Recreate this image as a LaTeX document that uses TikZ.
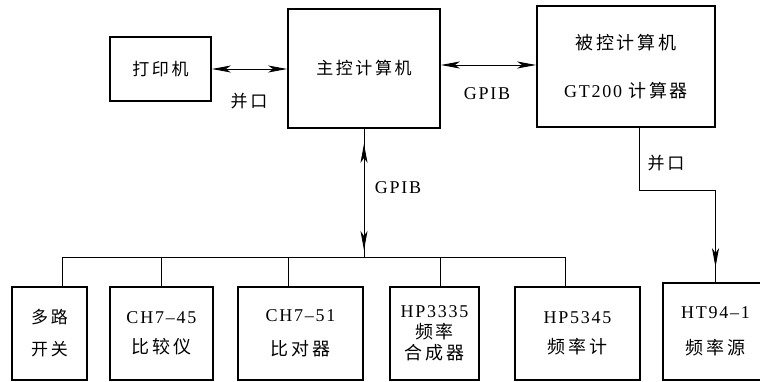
\documentclass[tikz,border=0pt]{standalone}
\usepackage{fontspec}
\setmainfont{Liberation Serif}[LetterSpace=10]
\newfontfamily\cjk[LetterSpace=15]{Noto Sans CJK SC}
\usetikzlibrary{arrows.meta,decorations.markings}

\begin{document}
\begin{tikzpicture}[
      x=1pt, y=-1pt,
      >={Stealth[length=19pt,width=7pt,inset=5pt]},
      every node/.style={font=\fontsize{17}{20}\selectfont, align=center, inner sep=0pt},
      latin/.style={font=\fontsize{18}{20}\selectfont},
      box/.style={rectangle, draw=black, line width=1.8pt, minimum width=#1pt},
      wire/.style={line width=0.9pt, draw=black},
      pointer/.style={wire, <->},
      vpointer/.style={wire, postaction=decorate, decoration={markings,
          mark=at position 15pt with {\arrowreversed{>}},
          mark=at position -7pt with {\arrow{>}}}},
      dpointer/.style={wire, postaction=decorate, decoration={markings,
          mark=at position -15pt with {\arrow{>}}}}
      ]
      \useasboundingbox (0,0) rectangle (760,382);
      \clip (0,0) rectangle (760,382);
      % computers
      \node[box=101, minimum height=64pt] (printer) at (160.5,69) {\cjk 打印机};
      \node[box=152, minimum height=119pt] (host) at (364,68.5) {\cjk 主控计算机};
      \node[box=178, minimum height=121pt, latin] (slave) at (626,66.5)
        {{\cjk 被控计算机}\\[28pt]GT200 {\cjk 计算器}};
      % instruments
      \node[box=75, minimum height=93pt] (mux) at (49.5,333.5) {\cjk 多路\\[12pt]\cjk 开关};
      \node[box=103, minimum height=93pt, latin] (cmp) at (161.5,333.5) {CH7--45\\[10pt]{\cjk 比较仪}};
      \node[box=125, minimum height=93pt, latin] (cmpb) at (300.5,333.5) {CH7--51\\[14pt]{\cjk 比对器}};
      \node[box=89, minimum height=93pt, latin] (syn) at (434.5,333.5) {HP3335\\[1pt]{\cjk 频率}\\[1pt]{\cjk 合成器}};
      \node[box=125, minimum height=93pt, latin] (cnt) at (577.5,333.5) {HP5345\\[10pt]{\cjk 频率计}};
      \node[box=105, minimum height=97pt, latin] (src) at (715.5,331.5) {HT94--1\\[16pt]{\cjk 频率源}};
      % labels
      \node (lpta) at (249,101) {\cjk 并口};
      \node[latin] (gpiba) at (487,94) {GPIB};
      \node[latin] (gpibb) at (398,188) {GPIB};
      \node (lptb) at (666,163) {\cjk 并口};
      % links
      \path (printer.east) edge [pointer] (printer.east -| host.west);
      \path (host.east |- 0,65) edge [pointer] (slave.west |- 0,65);
      \coordinate (bus) at (364,257);
      \draw[vpointer] (host.south) -- (bus);
      \draw[wire] ([xshift=12.5pt]mux.north) |- ([xshift=-12.5pt]cnt.north |- bus) -- ([xshift=-12.5pt]cnt.north);
      \foreach \n/\dx in {cmp/0, cmpb/-12.5, syn/5.5}
        \draw[wire] ([xshift=\dx pt]\n.north) -- ([xshift=\dx pt]\n.north |- bus);
      \draw[dpointer] ([xshift=13pt]slave.south) -- ++(0,63) -| (src.north);
\end{tikzpicture}
\end{document}
